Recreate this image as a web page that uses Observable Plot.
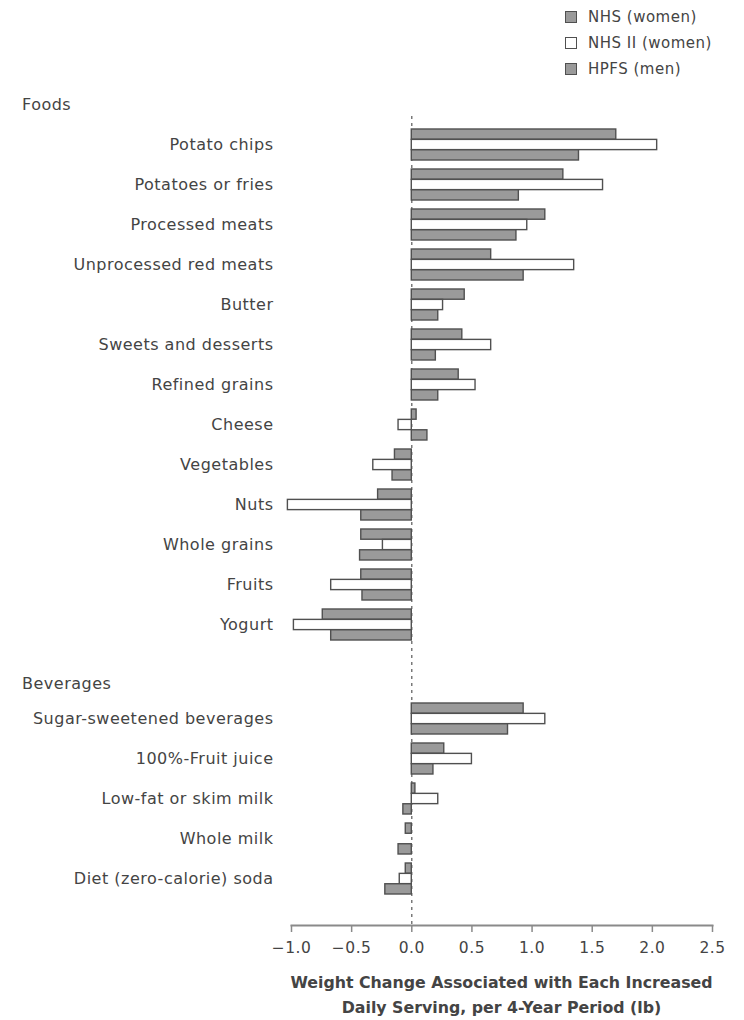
<!DOCTYPE html>
<html>
<head>
<meta charset="utf-8">
<script src="https://cdn.jsdelivr.net/npm/d3@7"></script>
<script src="https://cdn.jsdelivr.net/npm/@observablehq/plot@0.6"></script>
<style>
  body { margin: 0; background: #fff; font-family: "DejaVu Sans", sans-serif; color: #444; }
  #wrap { position: relative; width: 744px; height: 1020px; overflow: hidden; }
  #c1, #c2 { position: absolute; left: 0; }
  #c1 { top: 0; }
  #c2 { top: 697px; }
  .hdr { position: absolute; left: 22px; font-size: 16px; letter-spacing: 0.5px; line-height: 20px; }
  #legend { position: absolute; left: 565px; top: 4px; font-size: 15px; letter-spacing: 0.5px; }
  #legend .row { display: flex; align-items: center; height: 26px; }
  #legend .sw { width: 12px; height: 12px; box-sizing: border-box; border: 1.5px solid #505050; margin-right: 11px; }
  #xtitle { position: absolute; left: 241px; width: 521px; top: 970px; text-align: center;
            font-weight: bold; font-size: 15.8px; line-height: 25px; color: #444; white-space: nowrap; }
  svg { overflow: visible; }
</style>
</head>
<body>
<div id="wrap">
  <div id="legend"></div>
  <div class="hdr" style="top:95px">Foods</div>
  <div class="hdr" style="top:674px">Beverages</div>
  <div id="c1"></div>
  <div id="c2"></div>
  <div id="xtitle">Weight Change Associated with Each Increased<br>Daily Serving, per 4-Year Period (lb)</div>
</div>
<script>
// ---- data ----
const seriesNames = ["NHS (women)", "NHS II (women)", "HPFS (men)"];
const seriesFills = ["#9a9a9a", "#ffffff", "#9a9a9a"];

const foods = ["Potato chips", "Potatoes or fries", "Processed meats", "Unprocessed red meats",
  "Butter", "Sweets and desserts", "Refined grains", "Cheese", "Vegetables", "Nuts",
  "Whole grains", "Fruits", "Yogurt"];
const foodsNHS   = [1.70, 1.26, 1.11, 0.66, 0.44, 0.42, 0.39, 0.04, -0.14, -0.28, -0.42, -0.42, -0.74];
const foodsNHS2  = [2.04, 1.59, 0.96, 1.35, 0.26, 0.66, 0.53, -0.11, -0.32, -1.03, -0.24, -0.67, -0.98];
const foodsHPFS  = [1.39, 0.89, 0.87, 0.93, 0.22, 0.20, 0.22, 0.13, -0.16, -0.42, -0.43, -0.41, -0.67];

const beverages = ["Sugar-sweetened beverages", "100%-Fruit juice", "Low-fat or skim milk",
  "Whole milk", "Diet (zero-calorie) soda"];
const bevNHS  = [0.93, 0.27, 0.03, -0.05, -0.05];
const bevNHS2 = [1.11, 0.50, 0.22, 0.00, -0.10];
const bevHPFS = [0.80, 0.18, -0.07, -0.11, -0.22];

const xTicks = [-1.0, -0.5, 0.0, 0.5, 1.0, 1.5, 2.0, 2.5];

// ---- legend ----
const legend = document.getElementById("legend");
seriesNames.forEach((s, i) => {
  const row = document.createElement("div");
  row.className = "row";
  row.innerHTML = `<span class="sw" style="background:${seriesFills[i]}"></span><span>${s}</span>`;
  legend.appendChild(row);
});

// ---- chart builder ----
const W = 744, ML = 291, MR = 32;
const PAD_IN = 0.23, PAD_OUT = 0.115;
const plotStyle = "font-family:'DejaVu Sans',sans-serif;font-size:16px;letter-spacing:0.5px;color:#444;background:transparent;";

function groupBars(cats, lists, bandwidth) {
  const h = bandwidth / 3;
  return lists.map((vals, k) =>
    Plot.barX(cats.map((c, i) => ({cat: c, v: vals[i]})), {
      x: "v", y: "cat",
      fill: seriesFills[k], stroke: "#505050", strokeWidth: 1.4,
      insetTop: k * h, insetBottom: (2 - k) * h
    })
  );
}

// Chart 1: foods
{
  const height = 697, mt = 116, mb = 0, it = 5, ib = 50;
  const step = (height - mt - mb - it - ib) / foods.length;
  const bw = step * (1 - PAD_IN);
  const chart = Plot.plot({
    width: W, height,
    marginLeft: ML, marginRight: MR, marginTop: mt, marginBottom: mb,
    insetTop: it, insetBottom: ib,
    style: plotStyle,
    x: {domain: [-1, 2.5], axis: null},
    y: {domain: foods, paddingInner: PAD_IN, paddingOuter: PAD_OUT, label: null, tickSize: 0, tickPadding: 18},
    marks: [
      Plot.ruleX([0], {stroke: "#666", strokeWidth: 1.3, strokeDasharray: "3,4"}),
      ...groupBars(foods, [foodsNHS, foodsNHS2, foodsHPFS], bw)
    ]
  });
  document.getElementById("c1").appendChild(chart);
}

// Chart 2: beverages + axis
{
  const height = 320, mt = 0, mb = 92, it = 0, ib = 26;
  const step = (height - mt - mb - it - ib) / beverages.length;
  const bw = step * (1 - PAD_IN);
  const chart = Plot.plot({
    width: W, height,
    marginLeft: ML, marginRight: MR, marginTop: mt, marginBottom: mb,
    insetTop: it, insetBottom: ib,
    style: plotStyle,
    x: {domain: [-1, 2.5]},
    y: {domain: beverages, paddingInner: PAD_IN, paddingOuter: PAD_OUT, label: null, tickSize: 0, tickPadding: 18},
    marks: [
      Plot.ruleX([0], {stroke: "#666", strokeWidth: 1.3, strokeDasharray: "3,4"}),
      ...groupBars(beverages, [bevNHS, bevNHS2, bevHPFS], bw),
      Plot.frame({anchor: "bottom", stroke: "#8a8a8a", strokeWidth: 2}),
      Plot.axisX({ticks: xTicks, tickFormat: d => d.toFixed(1).replace("-", "\u2212"),
                  tickSize: 7, tickPadding: 9, stroke: "#8a8a8a", strokeWidth: 1.5,
                  fill: "#444", fontSize: 15.5, label: null})
    ]
  });
  document.getElementById("c2").appendChild(chart);
}
</script>
</body>
</html>
